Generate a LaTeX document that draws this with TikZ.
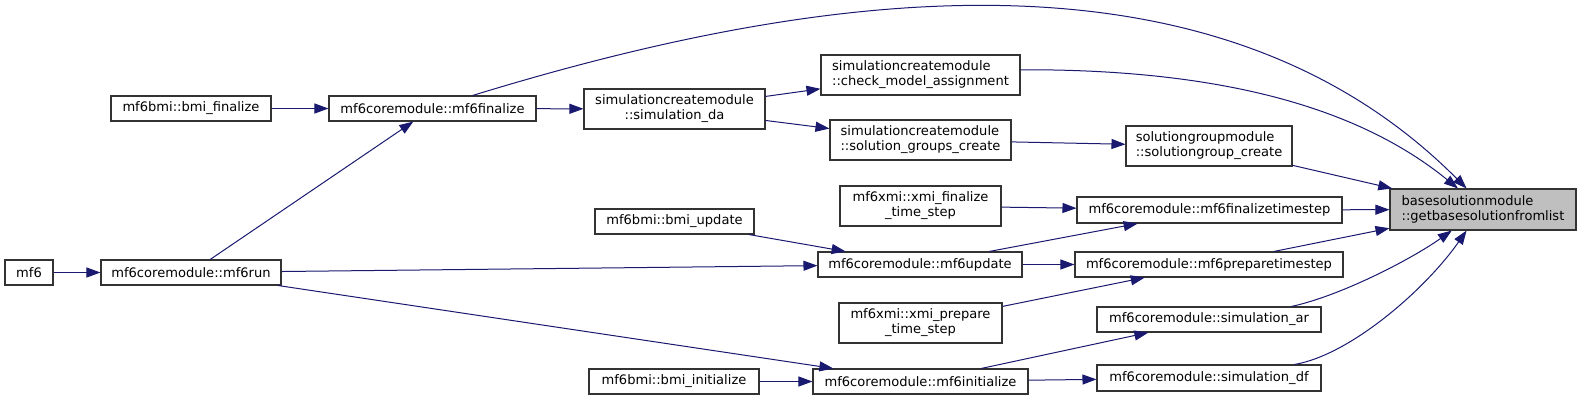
\documentclass[tikz,border=0pt]{standalone}
\usepackage{fontspec}
\setmainfont{DejaVu Sans}
\usetikzlibrary{arrows.meta}
\definecolor{edgeblue}{HTML}{191970}
\definecolor{boxline}{HTML}{333333}
\definecolor{hlfill}{HTML}{BFBFBF}
\begin{document}
\begin{tikzpicture}[x=0.75pt,y=-0.75pt,
  fn/.style={draw=boxline,line width=0.8pt,fill=white,inner sep=0pt,
    minimum height=18.75pt,text=black,font=\fontsize{9.8}{11.25}\selectfont},
  twoline/.style={minimum height=30pt},
  call/.style={draw=edgeblue,line width=0.75pt,-{Triangle[length=10.5pt,width=7.5pt]}}]
\useasboundingbox (0,0) rectangle (1581,401);
% nodes
\node[fn,minimum width=36pt] (mf6) at (29,272.5) {mf6};
\node[fn,minimum width=135pt] (mf6run) at (191,272.5) {mf6coremodule::mf6run};
\node[fn,minimum width=120pt] (bmifin) at (191,108.5) {mf6bmi::bmi\_finalize};
\node[fn,minimum width=155.25pt] (mf6fin) at (432.5,108.5) {mf6coremodule::mf6finalize};
\node[fn,twoline,align=center,minimum width=135.75pt] (simda) at (674.5,109) {simulationcreatemodule\\::simulation\_da};
\node[fn,twoline,align=left,minimum width=149.25pt] (checkmodel) at (920.5,75) {simulationcreatemodule\\::check\_model\_assignment};
\node[fn,twoline,align=left,minimum width=135.75pt] (sgcreate) at (920.5,140) {simulationcreatemodule\\::solution\_groups\_create};
\node[fn,twoline,align=left,minimum width=124.5pt] (solgrp) at (1209,146) {solutiongroupmodule\\::solutiongroup\_create};
\node[fn,twoline,align=left,minimum width=139.5pt,minimum height=30.75pt,fill=hlfill] (getbase) at (1483,209.5) {basesolutionmodule\\::getbasesolutionfromlist};
\node[fn,twoline,align=center,minimum width=120.75pt] (xmifin) at (920.5,206) {mf6xmi::xmi\_finalize\\\_time\_step};
\node[fn,minimum width=198.75pt,minimum height=19.5pt] (mf6ft) at (1209.5,210) {mf6coremodule::mf6finalizetimestep};
\node[fn,minimum width=119.25pt] (bmiupd) at (674.5,221.5) {mf6bmi::bmi\_update};
\node[fn,minimum width=153pt] (mf6upd) at (920,264.5) {mf6coremodule::mf6update};
\node[fn,minimum width=201pt] (mf6pt) at (1209,264.5) {mf6coremodule::mf6preparetimestep};
\node[fn,twoline,align=center,minimum width=122.25pt] (xmiprep) at (920.5,323) {mf6xmi::xmi\_prepare\\\_time\_step};
\node[fn,minimum width=168pt] (simar) at (1209,319.5) {mf6coremodule::simulation\_ar};
\node[fn,minimum width=127.5pt] (bmiinit) at (674,381.5) {mf6bmi::bmi\_initialize};
\node[fn,minimum width=161.25pt] (mf6init) at (920.5,381.5) {mf6coremodule::mf6initialize};
\node[fn,minimum width=168pt,minimum height=19.5pt] (simdf) at (1209,378) {mf6coremodule::simulation\_df};
% straight connectors
\draw[call] (mf6) -- (mf6run);
\draw[call] (mf6run) -- (mf6fin);
\draw[call] (mf6run) -- (mf6upd);
\draw[call] (mf6run) -- (mf6init);
\draw[call] (bmifin) -- (mf6fin);
\draw[call] (mf6fin) -- (simda);
\draw[call] (simda) -- (checkmodel);
\draw[call] (simda) -- (sgcreate);
\draw[call] (sgcreate) -- (solgrp);
\draw[call] (solgrp) -- (getbase);
\draw[call] (xmifin) -- (mf6ft);
\draw[call] (mf6upd) -- (mf6ft);
\draw[call] (mf6ft) -- (getbase);
\draw[call] (bmiupd) -- (mf6upd);
\draw[call] (mf6upd) -- (mf6pt);
\draw[call] (mf6pt) -- (getbase);
\draw[call] (xmiprep) -- (mf6pt);
\draw[call] (mf6init) -- (simar);
\draw[call] (mf6init) -- (simdf);
\draw[call] (bmiinit) -- (mf6init);
% curved connectors
\draw[call] (mf6fin.18) .. controls (800,-5) and (1207,-72) .. (getbase.128);
\draw[call] (checkmodel.3) .. controls (1220,69) and (1358,107) .. (getbase.140);
\draw[call] (simar.9) .. controls (1340,296) and (1410,260) .. (getbase.214);
\draw[call] (simdf.9) .. controls (1350,355) and (1425,290) .. (getbase.232);
\end{tikzpicture}
\end{document}
